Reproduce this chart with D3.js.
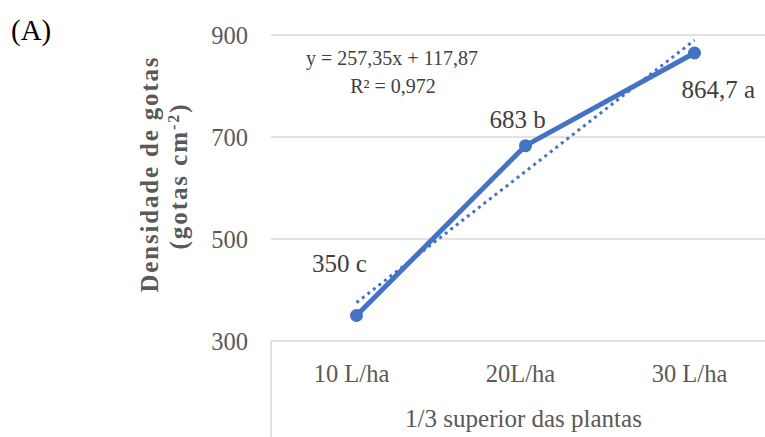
<!DOCTYPE html>
<html><head><meta charset="utf-8">
<script src="https://cdn.jsdelivr.net/npm/d3@7"></script>
<style>body{margin:0;background:#fff}svg{display:block}text{font-family:"Liberation Serif","Times New Roman",serif}</style>
</head><body>
<svg id="c" width="765" height="437"></svg>
<script>
const categories = ["10 L/ha", "20L/ha", "30 L/ha"];
const values = [350, 683, 864.7];
const letters = ["c", "b", "a"];
const yTicks = [300, 500, 700, 900];
const trendSlope = 257.35, trendIntercept = 117.87;
const equationText = "y = 257,35x + 117,87";
const r2Text = "R² = 0,972";
const groupLabel = "1/3 superior das plantas";

const svg = d3.select("#c");
const serif = '"Liberation Serif","Times New Roman",serif';
const x = d3.scaleBand().domain(categories).range([272, 779]).padding(0);
const y = d3.scaleLinear().domain([300, 900]).range([341, 35]);
const cx = c => x(c) + x.bandwidth() / 2;
const blue = "#4472C4";

// gridlines
svg.append("g").selectAll("line").data(yTicks).join("line")
  .attr("x1", 271).attr("x2", 779)
  .attr("y1", d => y(d)).attr("y2", d => y(d))
  .attr("stroke", "#d9d9d9").attr("stroke-width", 1.5);
// category group separator
svg.append("line").attr("x1", 271).attr("x2", 271).attr("y1", y(300)).attr("y2", 437)
  .attr("stroke", "#d9d9d9").attr("stroke-width", 1.5);

// y tick labels
svg.append("g").selectAll("text").data(yTicks).join("text")
  .attr("x", 248).attr("y", d => y(d)).attr("dy", "0.35em")
  .attr("font-family", serif)
  .attr("text-anchor", "end").attr("fill", "#595959").attr("font-size", 24.5)
  .text(d => d);

// x tick labels
svg.append("g").selectAll("text").data(categories).join("text")
  .attr("x", d => cx(d) - 5).attr("y", 382)
  .attr("font-family", serif)
  .attr("text-anchor", "middle").attr("fill", "#595959").attr("font-size", 24.5)
  .text(d => d);
svg.append("text").attr("x", (x.range()[0] + x.range()[1]) / 2 - 2).attr("y", 427)
  .attr("font-family", serif)
  .attr("text-anchor", "middle").attr("fill", "#595959").attr("font-size", 25)
  .text(groupLabel);

// y title
const yt = svg.append("g").attr("transform", "translate(149,175) rotate(-90)");
yt.append("text").attr("text-anchor", "middle").attr("dy", "0.35em")
  .attr("font-family", serif)
  .attr("font-weight", "bold").attr("font-size", 25).attr("fill", "#595959")
  .attr("textLength", 235).attr("lengthAdjust", "spacing")
  .text("Densidade de gotas");
const l2 = svg.append("g").attr("transform", "translate(178,177) rotate(-90)")
  .append("text").attr("text-anchor", "middle").attr("dy", "0.35em")
  .attr("font-family", serif)
  .attr("font-weight", "bold").attr("font-size", 25).attr("fill", "#595959")
  .attr("textLength", 145).attr("lengthAdjust", "spacing");
l2.append("tspan").text("(gotas cm");
l2.append("tspan").attr("baseline-shift", "super").attr("font-size", 16).text("-2");
l2.append("tspan").text(")");

// panel letter
svg.append("text").attr("x", 11).attr("y", 40).attr("font-family", serif)
  .attr("font-size", 29).attr("fill", "#000").text("(A)");

// series line
const pts = categories.map((c, i) => [cx(c), y(values[i])]);
svg.append("path").attr("d", d3.line()(pts)).attr("fill", "none")
  .attr("stroke", blue).attr("stroke-width", 5).attr("stroke-linejoin", "round");
svg.append("g").selectAll("circle").data(pts).join("circle")
  .attr("cx", d => d[0]).attr("cy", d => d[1]).attr("r", 6.5).attr("fill", blue);

// trend line
const tpts = categories.map((c, i) => [cx(c), y(trendSlope * (i + 1) + trendIntercept)]);
svg.append("path").attr("d", d3.line()(tpts)).attr("fill", "none")
  .attr("stroke", blue).attr("stroke-width", 3).attr("stroke-dasharray", "3,4");

// data labels
const fmt = v => String(v).replace(".", ",");
const off = [[-17, -44, "middle"], [-8, -18, "middle"], [-13, 45, "start"]];
svg.append("g").selectAll("text").data(values).join("text")
  .attr("font-family", serif)
  .attr("x", (d, i) => pts[i][0] + off[i][0]).attr("y", (d, i) => pts[i][1] + off[i][1])
  .attr("text-anchor", (d, i) => off[i][2]).attr("font-size", 25).attr("fill", "#404040")
  .text((d, i) => fmt(d) + " " + letters[i]);

// equation
svg.append("text").attr("x", 392).attr("y", 65).attr("text-anchor", "middle")
  .attr("font-family", serif)
  .attr("font-size", 20).attr("fill", "#404040").text(equationText);
svg.append("text").attr("x", 393).attr("y", 93).attr("text-anchor", "middle")
  .attr("font-family", serif)
  .attr("font-size", 20).attr("fill", "#404040").text(r2Text);
</script>
</body></html>
